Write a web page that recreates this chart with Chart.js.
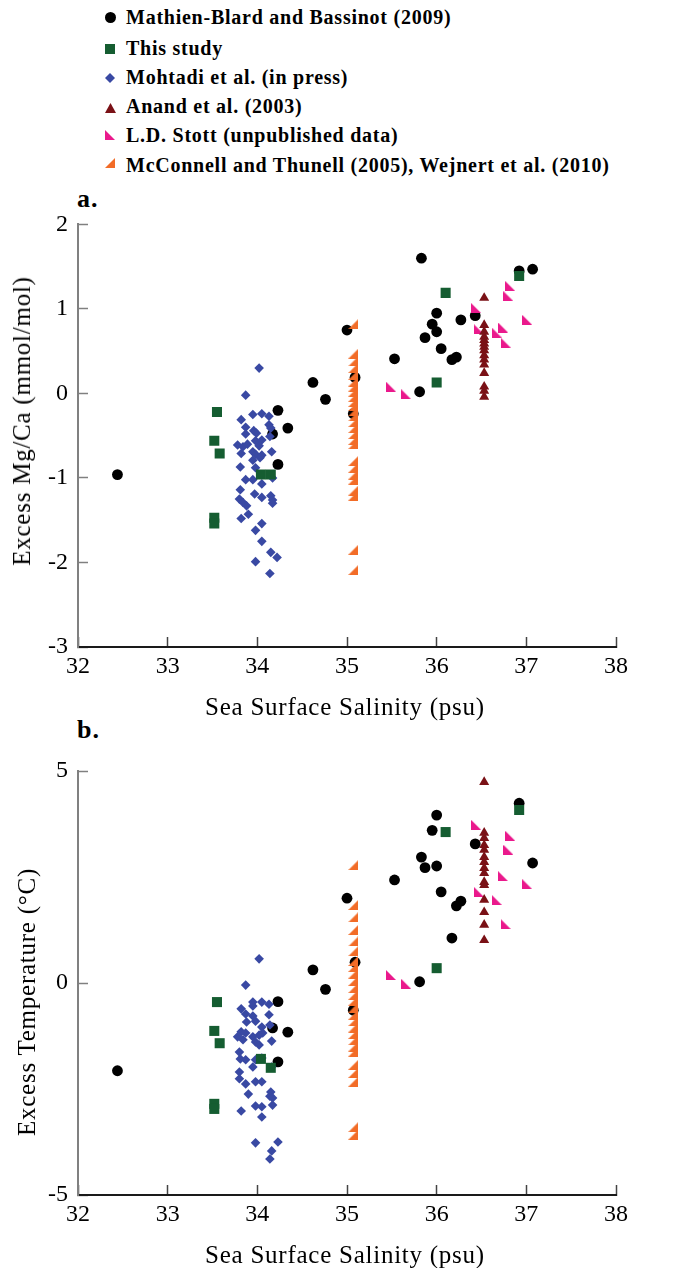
<!DOCTYPE html>
<html>
<head>
<meta charset="utf-8">
<title>Excess Mg/Ca and temperature vs salinity</title>
<script src="https://cdn.jsdelivr.net/npm/chart.js@4.4.1/dist/chart.umd.min.js"></script>
<style>
  html, body { margin: 0; padding: 0; background: #fff; }
  body { width: 688px; height: 1268px; position: relative; overflow: hidden;
         font-family: "Liberation Serif", "Times New Roman", serif; color: #000; }
  .abs { position: absolute; white-space: nowrap; }
  .legend-text { font-weight: bold; font-size: 20px; line-height: 20px; letter-spacing: 0.75px; left: 126px; }
  .panel-tag { font-weight: bold; font-size: 26px; line-height: 26px; letter-spacing: 1px; left: 77px; }
  .axis-title { font-size: 25px; line-height: 26px; letter-spacing: 0.75px; }
  .chart-box { position: absolute; left: 0; width: 688px; }
</style>
</head>
<body>
<div id="legend"></div>
<div class="abs panel-tag" style="top:186px">a.</div>
<div class="abs panel-tag" style="top:717px">b.</div>

<div class="chart-box" style="top:190px;height:540px"><canvas id="chartA" width="688" height="540"></canvas></div>
<div class="chart-box" style="top:720px;height:548px"><canvas id="chartB" width="688" height="548"></canvas></div>

<div class="abs axis-title" style="left:345px;top:694px;transform:translateX(-50%)">Sea Surface Salinity (psu)</div>
<div class="abs axis-title" style="left:345px;top:1242px;transform:translateX(-50%)">Sea Surface Salinity (psu)</div>
<div class="abs axis-title" style="left:22px;top:421px;transform:translate(-50%,-50%) rotate(-90deg)">Excess Mg/Ca (mmol/mol)</div>
<div class="abs axis-title" style="left:27px;top:1002px;transform:translate(-50%,-50%) rotate(-90deg)">Excess Temperature (°C)</div>

<script>
// tick values
const salTicks = [32, 33, 34, 35, 36, 37, 38];
const mgcaTicks = [-3, -2, -1, 0, 1, 2];
const tempTicks = [-5, 0, 5];

// Mathien-Blard and Bassinot (2009)
const mbSal  = [32.44, 34.23, 34.17, 34.34, 34.23, 34.62, 34.76, 35.0, 35.09, 35.07, 35.53, 35.81, 35.83, 36.0, 35.95, 36.0, 35.87, 36.05, 36.17, 36.22, 36.27, 36.43, 36.92, 37.07];
const mbMgCa = [-0.96, -0.2, -0.48, -0.41, -0.84, 0.13, -0.07, 0.75, 0.19, -0.24, 0.41, 0.02, 1.6, 0.95, 0.82, 0.73, 0.66, 0.53, 0.40, 0.43, 0.87, 0.92, 1.45, 1.47];
const mbTemp = [-2.07, -0.44, -1.06, -1.16, -1.86, 0.31, -0.15, 2.0, 0.49, -0.64, 2.43, 0.03, 2.97, 3.96, 3.6, 2.76, 2.72, 2.15, 1.06, 1.82, 1.93, 3.28, 4.24, 2.83];

// This study
const tsSal  = [33.55, 33.52, 33.58, 33.52, 33.52, 34.04, 34.15, 36.1, 36.0, 36.92];
const tsMgCa = [-0.22, -0.56, -0.71, -1.47, -1.54, -0.96, -0.96, 1.19, 0.13, 1.39];
const tsTemp = [-0.45, -1.13, -1.42, -2.85, -2.97, -1.79, -2.0, 3.56, 0.35, 4.08];

// Mohtadi et al. (in press)
const mhSalA  = [33.87, 34.02, 33.82, 33.95, 34.05, 34.13, 33.87, 33.96, 33.99, 34.13, 34.15, 34.14, 33.87, 33.78, 33.84, 33.82, 33.89, 33.98, 34.05, 34.02, 33.95, 33.98, 34.05, 34.03, 33.95, 34.16, 33.81, 33.98, 33.87, 33.95, 34.17, 34.05, 33.81, 33.97, 34.05, 34.15, 34.17, 34.17, 33.80, 33.84, 33.88, 33.82, 33.90, 34.05, 33.98, 34.05, 33.98, 34.15, 34.22, 34.14];
const mhMgCa  = [-0.02, 0.30, -0.31, -0.25, -0.24, -0.27, -0.40, -0.44, -0.47, -0.37, -0.41, -0.51, -0.48, -0.61, -0.63, -0.71, -0.60, -0.56, -0.55, -0.62, -0.69, -0.72, -0.73, -0.76, -0.79, -0.69, -0.87, -0.88, -1.02, -1.02, -1.0, -1.07, -1.14, -1.19, -1.23, -1.21, -1.26, -1.3, -1.25, -1.29, -1.33, -1.48, -1.43, -1.54, -1.62, -1.75, -1.99, -1.88, -1.94, -2.13];
const mhSalB  = [34.02, 33.87, 33.95, 34.05, 34.13, 33.82, 33.95, 33.87, 33.95, 34.13, 33.88, 33.98, 34.14, 34.05, 33.82, 33.87, 33.78, 33.84, 33.95, 34.02, 34.06, 33.98, 34.02, 34.16, 33.80, 33.81, 33.87, 33.95, 33.98, 34.05, 34.16, 33.80, 33.80, 33.87, 33.98, 34.05, 33.90, 34.15, 34.14, 34.17, 34.17, 33.98, 34.05, 33.82, 34.05, 33.98, 34.23, 34.16, 34.14];
const mhTemp  = [0.57, -0.05, -0.45, -0.45, -0.5, -0.61, -0.54, -0.73, -0.78, -0.75, -0.92, -0.9, -0.99, -1.04, -1.15, -1.18, -1.27, -1.34, -1.27, -1.23, -1.18, -1.39, -1.46, -1.37, -1.63, -1.79, -1.81, -1.98, -1.81, -1.77, -1.98, -2.1, -2.26, -2.38, -2.33, -2.33, -2.62, -2.57, -2.67, -2.71, -2.88, -2.9, -2.92, -3.02, -3.16, -3.77, -3.75, -3.96, -4.15];

// Anand et al. (2003), all at one salinity
const anSal  = 36.53;
const anMgCa = [1.13, 0.81, 0.73, 0.67, 0.63, 0.59, 0.55, 0.51, 0.45, 0.40, 0.34, 0.24, 0.08, 0.03, -0.04];
const anTemp = [4.74, 3.54, 3.42, 3.25, 3.14, 2.97, 2.85, 2.71, 2.59, 2.38, 2.31, 1.96, 1.67, 1.37, 1.01];

// L.D. Stott (unpublished data)
const stSal  = [35.49, 35.66, 36.44, 36.47, 36.67, 36.74, 36.77, 36.82, 36.8, 37.01];
const stMgCa = [0.08, -0.01, 1.01, 0.76, 0.72, 0.78, 0.60, 1.27, 1.15, 0.87];
const stTemp = [0.19, -0.02, 3.73, 2.15, 1.96, 2.52, 1.39, 3.47, 3.14, 2.33];

// McConnell and Thunell (2005), Wejnert et al. (2010), all at one salinity
const mcSal  = 35.07;
const mcMgCa = [0.82, 0.47, 0.38, 0.30, 0.22, 0.14, 0.08, 0.02, -0.04, -0.10, -0.15, -0.21, -0.27, -0.34, -0.41, -0.48, -0.55, -0.60, -0.80, -0.88, -0.96, -1.02, -1.15, -1.21, -1.85, -2.09];
const mcTemp = [2.78, 1.84, 1.55, 1.25, 0.98, 0.75, 0.52, 0.38, 0.22, 0.05, -0.12, -0.28, -0.42, -0.58, -0.75, -0.90, -1.05, -1.20, -1.35, -1.50, -1.62, -1.93, -2.12, -2.33, -3.40, -3.58];

const FONT = '"Liberation Serif", "Times New Roman", serif';

const SERIES = [
  { label: "Mathien-Blard and Bassinot (2009)", color: "#000000", shape: "circle", radius: 5.4, order: 6,
    a: [mbSal, mbMgCa], b: [mbSal, mbTemp] },
  { label: "This study", color: "#155d31", shape: "rect", radius: 7.1, order: 3,
    a: [tsSal, tsMgCa], b: [tsSal, tsTemp] },
  { label: "Mohtadi et al. (in press)", color: "#3949a3", shape: "rectRot", radius: 4.8, order: 4,
    a: [mhSalA, mhMgCa], b: [mhSalB, mhTemp] },
  { label: "Anand et al. (2003)", color: "#7a1116", shape: "triangle", radius: 5.8, order: 2,
    a: [anSal, anMgCa], b: [anSal, anTemp] },
  { label: "L.D. Stott (unpublished data)", color: "#ea198c", shape: "lowerLeft", radius: 5, order: 5,
    a: [stSal, stMgCa], b: [stSal, stTemp] },
  { label: "McConnell and Thunell (2005), Wejnert et al. (2010)", color: "#f26c27", shape: "lowerRight", radius: 5, order: 1,
    a: [mcSal, mcMgCa], b: [mcSal, mcTemp] },
];

// legend layout (baseline and marker centre of each row)
const legendBase = [24, 55, 84, 113, 142, 172];
const legendMark = [17, 49, 78, 107.5, 135, 162.5];

function shapeCanvas(shape, color, w, h) {
  const c = document.createElement("canvas");
  c.width = w;
  c.height = h;
  const g = c.getContext("2d");
  g.fillStyle = color;
  g.beginPath();
  if (shape === "circle") g.arc(w / 2, h / 2, w / 2, 0, Math.PI * 2);
  else if (shape === "rect") g.rect(0, 0, w, h);
  else if (shape === "rectRot") { g.moveTo(w / 2, 0); g.lineTo(w, h / 2); g.lineTo(w / 2, h); g.lineTo(0, h / 2); }
  else if (shape === "triangle") { g.moveTo(w / 2, 0); g.lineTo(w, h); g.lineTo(0, h); }
  else if (shape === "lowerLeft") { g.moveTo(0, 0); g.lineTo(w, h); g.lineTo(0, h); }
  else if (shape === "lowerRight") { g.moveTo(w, 0); g.lineTo(w, h); g.lineTo(0, h); }
  g.closePath();
  g.fill();
  return c;
}

function points(xs, ys) {
  return ys.map((y, i) => ({ x: Array.isArray(xs) ? xs[i] : xs, y }));
}

function pointStyleOf(s) {
  return s.shape === "lowerLeft" || s.shape === "lowerRight" ? shapeCanvas(s.shape, s.color, 10, 10) : s.shape;
}

function datasets(panel) {
  return SERIES.map((s) => ({
    label: s.label,
    data: points(s[panel][0], s[panel][1]),
    pointStyle: pointStyleOf(s),
    pointRadius: s.radius,
    pointHoverRadius: s.radius,
    pointBackgroundColor: s.color,
    pointBorderColor: s.color,
    pointBorderWidth: 0,
    backgroundColor: s.color,
    borderColor: s.color,
    showLine: false,
    order: s.order,
  }));
}

function options(yTicks, padTop, padBottom) {
  return {
    responsive: false,
    animation: false,
    events: [],
    layout: { padding: { left: 0, right: 72, top: padTop, bottom: padBottom } },
    plugins: { legend: { display: false }, tooltip: { enabled: false } },
    scales: {
      x: {
        type: "linear",
        position: "bottom",
        min: salTicks[0],
        max: salTicks.at(-1),
        afterBuildTicks: (scale) => { scale.ticks = salTicks.map((value) => ({ value })); },
        afterFit: (scale) => { scale.height = 40; },
        ticks: { color: "#000", font: { family: FONT, size: 24 }, padding: 15, maxRotation: 0, autoSkip: false,
                 callback: (v) => String(v) },
        grid: { drawOnChartArea: false, tickLength: -10, tickColor: "#444", tickWidth: 1.5 },
        border: { color: "#1a1a1a", width: 2 },
      },
      y: {
        type: "linear",
        position: "left",
        min: yTicks[0],
        max: yTicks.at(-1),
        afterBuildTicks: (scale) => { scale.ticks = yTicks.map((value) => ({ value })); },
        afterFit: (scale) => { scale.width = 78; },
        ticks: { color: "#000", font: { family: FONT, size: 24 }, padding: 20, autoSkip: false,
                 callback: (v) => String(v) },
        grid: { drawOnChartArea: false, tickLength: -10, tickColor: "#808080", tickWidth: 1.5 },
        border: { color: "#808080", width: 2 },
      },
    },
  };
}

function renderLegend() {
  const box = document.getElementById("legend");
  SERIES.forEach((s, i) => {
    const dims = s.shape === "circle" ? [11, 11] : s.shape === "triangle" ? [11, 10] : [10, 10];
    const icon = shapeCanvas(s.shape, s.color, dims[0], dims[1]);
    icon.className = "abs";
    icon.style.left = `${110 - dims[0] / 2}px`;
    icon.style.top = `${legendMark[i] - dims[1] / 2}px`;
    box.appendChild(icon);

    const text = document.createElement("div");
    text.className = "abs legend-text";
    text.style.top = `${legendBase[i] - 16.75}px`;
    text.textContent = s.label;
    box.appendChild(text);
  });
}

renderLegend();
new Chart(document.getElementById("chartA"), { type: "scatter", data: { datasets: datasets("a") }, options: options(mgcaTicks, 32, 43) });
new Chart(document.getElementById("chartB"), { type: "scatter", data: { datasets: datasets("b") }, options: options(tempTicks, 51, 33) });
</script>
</body>
</html>
